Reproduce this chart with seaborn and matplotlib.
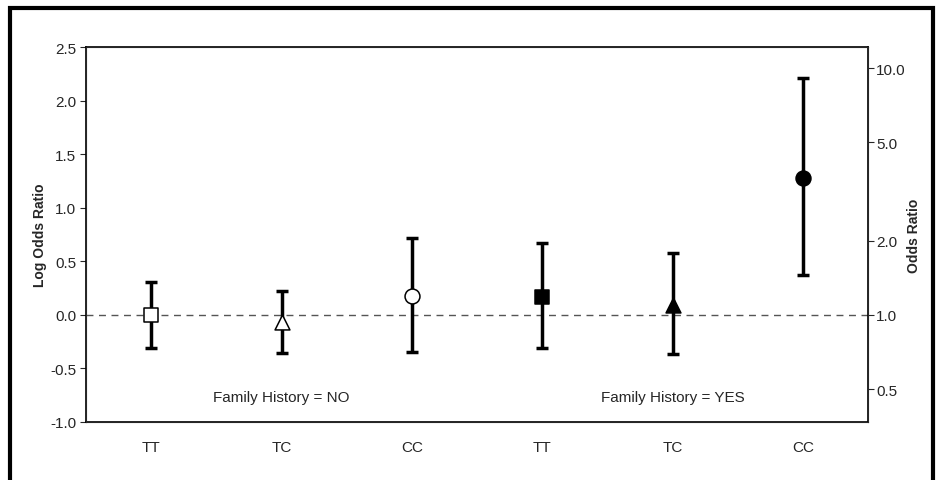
import matplotlib
matplotlib.use("Agg")
import matplotlib.pyplot as plt
from matplotlib.patches import Rectangle
import numpy as np
import pandas as pd
import seaborn as sns

# data
genotypes = ["TT", "TC", "CC", "TT", "TC", "CC"]
family_history = ["NO", "NO", "NO", "YES", "YES", "YES"]
log_or = [0.00, -0.07, 0.18, 0.17, 0.09, 1.28]
ci_low = [-0.31, -0.36, -0.35, -0.31, -0.37, 0.37]
ci_high = [0.31, 0.22, 0.72, 0.67, 0.58, 2.21]
markers = ["s", "^", "o", "s", "^", "o"]
faces = ["white", "white", "white", "black", "black", "black"]
or_ticks = [0.5, 1.0, 2.0, 5.0, 10.0]

df = pd.DataFrame({"pos": range(len(genotypes)), "geno": genotypes,
                   "fh": family_history, "lor": log_or,
                   "lo": ci_low, "hi": ci_high})

sns.set_style("white")
plt.rcParams["font.family"] = ["Liberation Sans", "DejaVu Sans"]

fig = plt.figure(figsize=(9.38, 4.81), dpi=100)
ax = fig.add_axes([0.0917, 0.1206, 0.8337, 0.7796])

# frame around the whole figure
fig.patches.append(Rectangle((10 / 938, -0.05), 923 / 938, 1 - 9 / 481 + 0.05,
                             transform=fig.transFigure, fill=False,
                             edgecolor="black", linewidth=3))

ax.axhline(0, color="#555555", linestyle=(0, (5, 4)), linewidth=1, zorder=1)

ax.errorbar(df["pos"], df["lor"],
            yerr=[df["lor"] - df["lo"], df["hi"] - df["lor"]],
            fmt="none", ecolor="black", elinewidth=2.5, capsize=4, capthick=2.5, zorder=2)

for i, row in df.iterrows():
    sns.scatterplot(x=[row["pos"]], y=[row["lor"]], marker=markers[i], s=115,
                    color=faces[i], edgecolor="black", linewidth=1.1, ax=ax, zorder=3)

ax.set_xlim(-0.5, 5.5)
ax.set_ylim(-1.0, 2.5)
ax.set_xticks(df["pos"])
ax.set_xticklabels(genotypes, fontsize=11)
ax.set_yticks(np.arange(-1.0, 2.51, 0.5))
ax.set_yticklabels([f"{v:.1f}" for v in np.arange(-1.0, 2.51, 0.5)], fontsize=11)
ax.tick_params(axis="x", length=0, pad=13)
ax.tick_params(axis="y", length=4, width=0.8, direction="out", left=True, pad=3)
ax.set_ylabel("Log Odds Ratio", fontsize=10, fontweight="bold", labelpad=2)
for sp in ax.spines.values():
    sp.set_color("black")
    sp.set_linewidth(1.2)

ax2 = ax.twinx()
ax2.set_ylim(-1.0, 2.5)
ax2.set_yticks(np.log(or_ticks))
ax2.set_yticklabels([f"{v:.1f}" for v in or_ticks], fontsize=11)
ax2.tick_params(axis="y", length=4, width=0.8, direction="out", right=True, pad=2)
ax2.set_ylabel("Odds Ratio", fontsize=10, fontweight="bold", labelpad=1)

for x, label in [(1, "Family History = NO"), (4, "Family History = YES")]:
    ax.text(x, -0.77, label, ha="center", va="center", fontsize=11)

fig.savefig("out.png", dpi=100, facecolor="white")
